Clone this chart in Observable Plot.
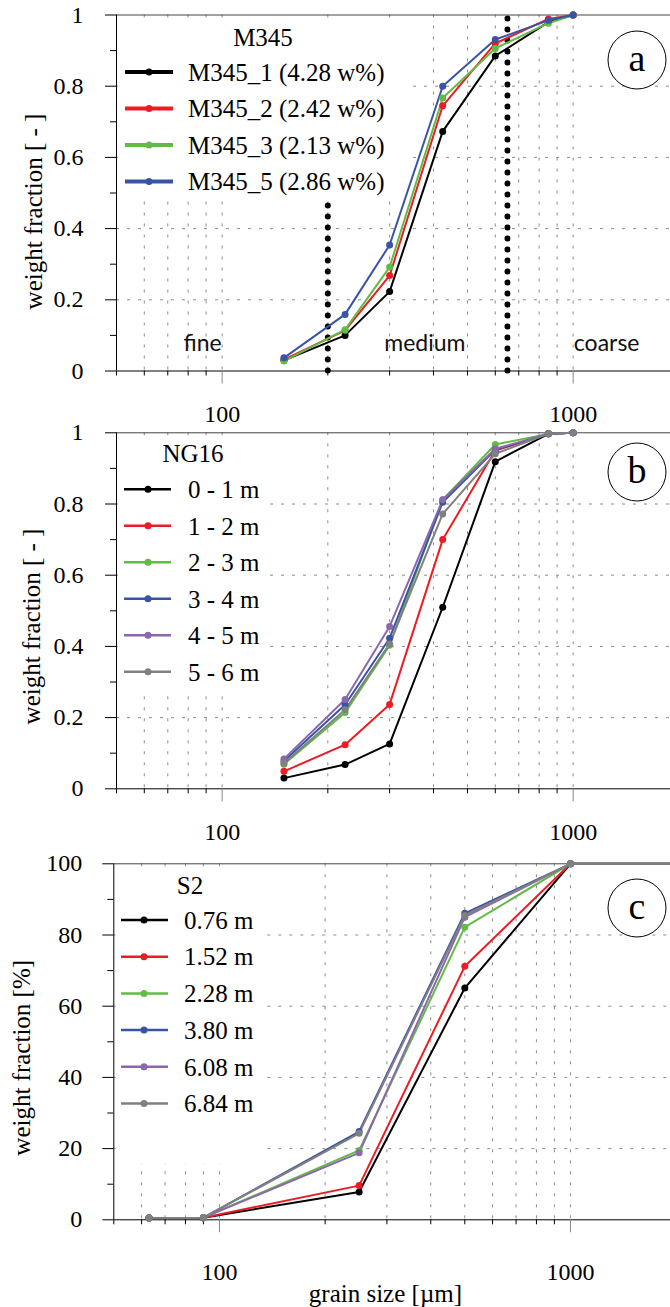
<!DOCTYPE html>
<html><head><meta charset="utf-8">
<script src="https://cdn.jsdelivr.net/npm/d3@7"></script>
<script src="https://cdn.jsdelivr.net/npm/@observablehq/plot@0.6"></script>
<style>
html,body{margin:0;padding:0;background:#fff;overflow:hidden;}
#root{position:relative;width:670px;height:1307px;overflow:hidden;background:#fff;}
.panel{position:absolute;left:0;width:670px;}
.panel svg text{font-family:"Liberation Serif", serif;}
.panel svg text.zone{font-family:Lato, sans-serif;}
</style></head><body><div id="root"></div>
<script>
// ---------- data ----------
const sizesAB = [150, 224, 300, 425, 600, 850, 1000];           // grain size [µm]
const seriesA = ["M345_1 (4.28 w%)", "M345_2 (2.42 w%)", "M345_3 (2.13 w%)", "M345_5 (2.86 w%)"];
const m345_1 = [0.030, 0.100, 0.223, 0.673, 0.885, 0.980, 1.0];
const m345_2 = [0.032, 0.114, 0.268, 0.745, 0.920, 0.989, 1.0];
const m345_3 = [0.028, 0.116, 0.292, 0.767, 0.906, 0.977, 1.0];
const m345_5 = [0.037, 0.159, 0.354, 0.800, 0.931, 0.985, 1.0];

const seriesB = ["0 - 1 m", "1 - 2 m", "2 - 3 m", "3 - 4 m", "4 - 5 m", "5 - 6 m"];
const ng16_01 = [0.030, 0.068, 0.126, 0.510, 0.919, 0.997, 1.0];
const ng16_12 = [0.049, 0.124, 0.237, 0.700, 0.950, 0.997, 1.0];
const ng16_23 = [0.069, 0.214, 0.403, 0.812, 0.967, 0.997, 1.0];
const ng16_34 = [0.078, 0.236, 0.423, 0.805, 0.952, 0.997, 1.0];
const ng16_45 = [0.084, 0.251, 0.456, 0.812, 0.955, 0.997, 1.0];
const ng16_56 = [0.072, 0.222, 0.407, 0.772, 0.941, 0.997, 1.0];

const sizesC = [63, 90, 250, 500, 1000, 2000];
const seriesC = ["0.76 m", "1.52 m", "2.28 m", "3.80 m", "6.08 m", "6.84 m"];
const s2_076 = [0.5, 0.6, 7.8, 65.1, 100, 100];
const s2_152 = [0.5, 0.6, 9.6, 71.2, 100, 100];
const s2_228 = [0.5, 0.6, 19.5, 82.2, 100, 100];
const s2_380 = [0.5, 0.6, 24.8, 86.1, 100, 100];
const s2_608 = [0.5, 0.6, 18.8, 85.0, 100, 100];
const s2_684 = [0.5, 0.6, 24.3, 85.5, 100, 100];

const xMajorTicks = [100, 1000];
const xMinorTicks = [50, 60, 70, 80, 90, 200, 300, 400, 500, 600, 700, 800, 900, 2000];
const xGridTicks = [60, 70, 80, 90, 100, 200, 300, 400, 500, 600, 700, 800, 900, 1000, 2000];
const yMajorFrac = [0, 0.2, 0.4, 0.6, 0.8, 1];
const yMinorFrac = [0.1, 0.3, 0.5, 0.7, 0.9];
const yGridFrac = [0.2, 0.4, 0.6, 0.8];
const yMajorPct = [0, 20, 40, 60, 80, 100];
const yMinorPct = [10, 30, 50, 70, 90];
const yGridPct = [20, 40, 60, 80];

const zoneLabels = ["fine", "medium", "coarse"];
const zoneSizes = [88, 378, 1246];
const zoneBounds = [200, 650];
const zoneBoundTops = [0.48, 1];

// ---------- styling ----------
const colors = ["#000000", "#ed1c24", "#62bb46", "#3a54a4", "#8a67ae", "#808080"];
const SERIF = "Liberation Serif, serif";
const SANS = "Lato, sans-serif";

function rowsOf(sizes, names, values) {
  return names.flatMap((n, i) => sizes.map((s, j) => ({size: s, value: values[i][j], series: n})));
}

function makePanel(o) {
  const rows = rowsOf(o.sizes, o.names, o.values);
  const marks = [
    Plot.gridX(xGridTicks, {stroke: "#8c8c8c", strokeOpacity: 1, strokeDasharray: "3,8"}),
    Plot.gridY(o.yGrid, {stroke: "#8c8c8c", strokeOpacity: 1, strokeDasharray: "3,8"}),
    ...(o.before || []),
    Plot.ruleY([o.yDomain[1]], {stroke: "#444"}),
    Plot.ruleY([o.yDomain[0]], {stroke: "#000"}),
    Plot.ruleX([50], {stroke: "#000"}),
    Plot.axisY(o.yMinor, {tickSize: 6, tickFormat: () => "", label: null, stroke: "#000"}),
    Plot.axisY(o.yMajor, {tickSize: 11, tickPadding: o.yPad, tickFormat: d => String(d), label: null, fontSize: 24, fontFamily: SERIF, fontVariant: "normal", stroke: "#000"}),
    Plot.axisX(xMinorTicks, {anchor: "bottom", tickSize: 5, tickFormat: () => "", label: null, stroke: "#000"}),
    Plot.axisX(xMajorTicks, {anchor: "bottom", tickSize: 13, tickPadding: o.xPad, tickFormat: d => String(d), label: null, fontSize: 24, fontFamily: SERIF, fontVariant: "normal", stroke: "#888"}),
    Plot.line(rows, {x: "size", y: "value", stroke: "series", z: "series", strokeWidth: o.lineWidth || 2}),
    Plot.dot(rows, {x: "size", y: "value", fill: "series", r: 3.5}),
    Plot.text([o.yTitle], {frameAnchor: "left", rotate: -90, textAnchor: "middle", lineAnchor: "middle", dx: o.yTitleDx, dy: o.yTitleDy, fontSize: 25, fontFamily: SERIF, text: d => d}),
    ...(o.after || [])
  ];
  const svg = Plot.plot({
    width: 670, height: o.height,
    marginTop: o.mt, marginBottom: o.mb, marginLeft: o.ml, marginRight: o.mr,
    style: {overflow: "visible", background: "transparent", color: "#000", fontFamily: SERIF},
    x: {type: "log", domain: [50, 2000], axis: null},
    y: {domain: o.yDomain, axis: null},
    color: {domain: o.names, range: colors.slice(0, o.names.length)},
    marks
  });
  svg.setAttribute("font-family", SERIF);
  const div = document.createElement("div");
  div.className = "panel";
  div.style.top = o.top + "px";
  div.style.height = o.height + "px";
  div.appendChild(svg);
  document.getElementById("root").appendChild(div);

  const s = d3.select(svg);
  s.selectAll("text").style("font-family", SERIF);
  s.selectAll("text").filter(function () { return zoneLabels.includes(this.textContent); })
    .classed("zone", true).style("font-family", SANS);

  // legend box hides the grid behind it (inserted right after the grid marks)
  const L = o.legend;
  s.insert("rect", 'g[aria-label="y-grid"] + *')
    .attr("x", L.box[0]).attr("y", L.box[1]).attr("width", L.box[2]).attr("height", L.box[3])
    .attr("fill", "#fff");
  const g = s.append("g").attr("font-size", 25).attr("text-anchor", "start");
  g.append("text").attr("x", L.titleX).attr("y", L.titleY).attr("dy", "0.35em")
    .style("font-family", SERIF).attr("text-anchor", "middle").text(L.title);
  o.names.forEach((n, i) => {
    const y = L.y0 + i * L.step;
    g.append("line").attr("x1", L.x1).attr("x2", L.x2).attr("y1", y).attr("y2", y)
      .attr("stroke", colors[i]).attr("stroke-width", L.lw);
    g.append("circle").attr("cx", L.dotX).attr("cy", y).attr("r", 3.5).attr("fill", colors[i]);
    g.append("text").attr("x", L.textX).attr("y", y).attr("dy", "0.35em")
      .style("font-family", SERIF).attr("text-anchor", "start").text(n);
  });
  // panel badge
  const b = o.badge;
  s.append("circle").attr("cx", b.x).attr("cy", b.y).attr("r", 29)
    .attr("fill", "#fff").attr("stroke", "#000").attr("stroke-width", 1);
  s.append("text").attr("x", b.x).attr("y", b.y).attr("dy", "0.3em")
    .attr("text-anchor", "middle").style("font-family", SERIF).attr("font-size", 38).text(b.label);
}

// Panel a
makePanel({
  top: 0, height: 400, mt: 14.5, mb: 29.5, ml: 116, mr: -8.3,
  yDomain: [0, 1], yMajor: yMajorFrac, yMinor: yMinorFrac, yGrid: yGridFrac,
  sizes: sizesAB, names: seriesA, values: [m345_1, m345_2, m345_3, m345_5],
  yPad: 22, xPad: 21.2, yTitle: "weight fraction [ - ]", yTitleDx: -83, yTitleDy: 18.5,
  before: [
    Plot.ruleX(zoneBounds, {x: d => d, y1: 0, y2: (d, i) => zoneBoundTops[i], stroke: "#000", strokeWidth: 6, strokeDasharray: "0,11", strokeLinecap: "round"})
  ],
  after: [
    Plot.text(zoneLabels, {x: (d, i) => zoneSizes[i], y: 0.077, text: d => d, fontSize: 23, fontFamily: SANS, fill: "#111"})
  ],
  legend: {box: [118, 19, 289, 178], title: "M345", titleX: 263, titleY: 37, y0: 72, step: 36.5, x1: 125, x2: 173, dotX: 149, textX: 188, lw: 4},
  badge: {x: 637, y: 60, label: "a"}
});

// Panel b
makePanel({
  top: 400, height: 420, mt: 32.3, mb: 31.7, ml: 116, mr: -8.3,
  yDomain: [0, 1], yMajor: yMajorFrac, yMinor: yMinorFrac, yGrid: yGridFrac,
  sizes: sizesAB, names: seriesB, values: [ng16_01, ng16_12, ng16_23, ng16_34, ng16_45, ng16_56],
  yPad: 22, xPad: 21.4, yTitle: "weight fraction [ - ]", yTitleDx: -84.4, yTitleDy: 15.7,
  legend: {box: [118, 36, 152, 259], title: "NG16", titleX: 193, titleY: 53, y0: 89.3, step: 36.5, x1: 124, x2: 171, dotX: 148, textX: 188, lw: 2.5},
  badge: {x: 637, y: 72, label: "b"}
});

// Panel c
makePanel({
  top: 820, height: 487, mt: 43.3, mb: 87.7, ml: 113.3, mr: -5.6,
  yDomain: [0, 100], yMajor: yMajorPct, yMinor: yMinorPct, yGrid: yGridPct,
  sizes: sizesC, names: seriesC, values: [s2_076, s2_152, s2_228, s2_380, s2_608, s2_684],
  yPad: 20.5, xPad: 30.4, yTitle: "weight fraction [%]", yTitleDx: -91.7, yTitleDy: 16,
  after: [
    Plot.text(["grain size [µm]"], {frameAnchor: "bottom", textAnchor: "middle", lineAnchor: "middle", dx: -9.5, dy: 73.7, fontSize: 25, fontFamily: SERIF, text: d => d})
  ],
  legend: {box: [115.5, 48, 149.5, 295], title: "S2", titleX: 190, titleY: 65, y0: 100, step: 36.7, x1: 121, x2: 168, dotX: 144, textX: 184, lw: 2.5},
  badge: {x: 637, y: 88, label: "c"}
});
</script></body></html>
